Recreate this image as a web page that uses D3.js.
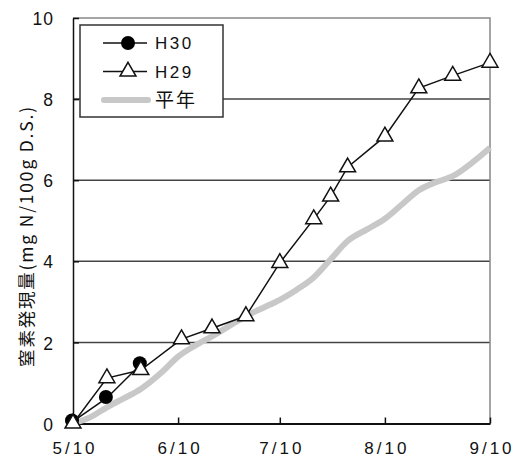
<!DOCTYPE html>
<html>
<head>
<meta charset="utf-8">
<script src="https://cdn.jsdelivr.net/npm/d3@7"></script>
<style>
  body { margin: 0; background: #fff; }
  svg { font-family: "Liberation Sans", Arial, sans-serif; }
</style>
</head>
<body>
<div id="chart"></div>
<script>
// dates are month/day in one season
let YEAR = 2018;
let parse = s => { let [m, d] = s.split("/").map(Number); return new Date(YEAR, m - 1, d); };

let xTicks = ["5/10", "6/10", "7/10", "8/10", "9/10"];
let yTicks = [0, 2, 4, 6, 8, 10];

// H30 (this year)
let h30Dates = ["5/10", "5/20", "5/30"];
let h30Values = [0.05, 0.63, 1.46];

// H29 (last year)
let h29Dates = ["5/10", "5/20", "5/30", "6/11", "6/20", "6/30", "7/10", "7/20", "7/25", "7/30", "8/10", "8/20", "8/30", "9/10"];
let h29Values = [0, 1.12, 1.32, 2.08, 2.35, 2.65, 3.96, 5.04, 5.6, 6.32, 7.08, 8.27, 8.58, 8.9];

// 平年 (average year)
let avgDates = ["5/10", "5/15", "5/20", "5/25", "5/30", "6/5", "6/10", "6/15", "6/20", "6/25", "6/30", "7/5", "7/10", "7/15", "7/20", "7/25", "7/30", "8/5", "8/10", "8/15", "8/20", "8/25", "8/30", "9/5", "9/10"];
let avgValues = [0, 0.15, 0.4, 0.62, 0.85, 1.25, 1.65, 1.92, 2.15, 2.4, 2.65, 2.85, 3.05, 3.3, 3.6, 4.05, 4.5, 4.8, 5.05, 5.4, 5.75, 5.95, 6.1, 6.45, 6.8];

let legendNames = ["H30", "H29", "平年"];

let width = 516, height = 459;
let margin = { left: 73, right: 25, top: 18, bottom: 36 };
let latin = "Liberation Sans, Arial, sans-serif";
let cjk = "Noto Sans CJK JP, sans-serif";

let svg = d3.select("#chart").append("svg")
    .attr("width", width)
    .attr("height", height);

let x = d3.scaleTime()
    .domain([parse("5/10"), parse("9/10")])
    .range([margin.left, width - margin.right - 1]);
let y = d3.scaleLinear()
    .domain([0, 10])
    .range([height - margin.bottom + 0.5, margin.top]);

let x0 = x.range()[0], x1 = x.range()[1];

// grid lines
svg.append("g")
    .selectAll("line")
    .data(yTicks.filter(v => v > 0 && v < 10))
    .join("line")
    .attr("x1", x0).attr("x2", x1)
    .attr("y1", d => y(d)).attr("y2", d => y(d))
    .attr("stroke", "#444")
    .attr("stroke-width", 1.5);

// top and right frame
svg.append("path")
    .attr("d", `M${x0},${y(10)}H${x1}V${y(0)}`)
    .attr("fill", "none")
    .attr("stroke", "#888")
    .attr("stroke-width", 1.5);

// axes
let xAxis = d3.axisBottom(x)
    .tickValues(xTicks.map(parse))
    .tickFormat(d3.timeFormat("%-m/%-d"))
    .tickSizeInner(-6)
    .tickSizeOuter(0)
    .tickPadding(18);
let gx = svg.append("g")
    .attr("transform", `translate(0,${y(0)})`)
    .call(xAxis);
gx.select(".domain").attr("stroke", "#111").attr("stroke-width", 2);
gx.selectAll(".tick line").attr("stroke", "#111").attr("stroke-width", 1.5);
gx.selectAll(".tick text")
    .attr("font-size", 17)
    .attr("letter-spacing", 3)
    .attr("dx", 1.5)
    .attr("fill", "#111")
    .attr("font-family", latin);

let yAxis = d3.axisLeft(y)
    .tickValues(yTicks)
    .tickSizeInner(-6)
    .tickSizeOuter(0)
    .tickPadding(20);
let gy = svg.append("g")
    .attr("transform", `translate(${x0},0)`)
    .call(yAxis);
gy.select(".domain").attr("stroke", "#111").attr("stroke-width", 1.5);
gy.selectAll(".tick line").attr("stroke", "#111").attr("stroke-width", 1.5);
gy.selectAll(".tick text")
    .attr("font-size", 17.5)
    .attr("letter-spacing", 1)
    .attr("dx", 1)
    .attr("dy", "0.38em")
    .attr("fill", "#111")
    .attr("font-family", latin);

// y title
svg.append("text")
    .attr("transform", `translate(33,236) rotate(-90)`)
    .attr("text-anchor", "middle")
    .attr("font-size", 17.5)
    .attr("letter-spacing", 1.8)
    .attr("fill", "#111")
    .attr("font-family", cjk)
    .text("窒素発現量(mg N/100g D.S.)");

let line = d3.line().x(d => x(d[0])).y(d => y(d[1]));
let zip = (ds, vs) => ds.map((d, i) => [parse(d), vs[i]]);

let avg = zip(avgDates, avgValues);
let h29 = zip(h29Dates, h29Values);
let h30 = zip(h30Dates, h30Values);

// average line
svg.append("path")
    .datum(avg)
    .attr("d", line.curve(d3.curveMonotoneX))
    .attr("fill", "none")
    .attr("stroke", "#c8c8c8")
    .attr("stroke-width", 6)
    .attr("stroke-linejoin", "round");
line.curve(d3.curveLinear);

let triangle = d3.symbol().type(d3.symbolTriangle).size(110);

// H30
svg.append("path")
    .datum(h30)
    .attr("d", line)
    .attr("fill", "none")
    .attr("stroke", "#111")
    .attr("stroke-width", 1.5);
svg.append("g")
    .selectAll("circle")
    .data(h30)
    .join("circle")
    .attr("cx", d => x(d[0]) - 1)
    .attr("cy", d => y(d[1]) - 1)
    .attr("r", 7)
    .attr("fill", "#000");

// H29
svg.append("path")
    .datum(h29)
    .attr("d", line)
    .attr("fill", "none")
    .attr("stroke", "#111")
    .attr("stroke-width", 1.5);
svg.append("g")
    .selectAll("path")
    .data(h29)
    .join("path")
    .attr("d", triangle)
    .attr("transform", d => `translate(${x(d[0])},${y(d[1])})`)
    .attr("fill", "#fff")
    .attr("stroke", "#111")
    .attr("stroke-width", 1.5);

// legend
let legend = svg.append("g").attr("transform", "translate(80,25)");
legend.append("rect")
    .attr("width", 143).attr("height", 92)
    .attr("fill", "#fff")
    .attr("stroke", "#333")
    .attr("stroke-width", 1.5);

legendNames.forEach((name, i) => {
    let ly = 18 + i * 28.5;
    let item = legend.append("g").attr("transform", `translate(0,${ly})`);
    if (i < 2) {
        item.append("line")
            .attr("x1", 23).attr("x2", 67)
            .attr("stroke", "#111").attr("stroke-width", 1.5);
        if (i === 0) {
            item.append("circle").attr("cx", 48).attr("r", 7).attr("fill", "#000");
        } else {
            item.append("path").attr("d", triangle)
                .attr("transform", "translate(48,0)")
                .attr("fill", "#fff").attr("stroke", "#111").attr("stroke-width", 1.5);
        }
    } else {
        item.append("line")
            .attr("x1", 24).attr("x2", 68)
            .attr("stroke", "#c8c8c8").attr("stroke-width", 6)
            .attr("stroke-linecap", "round");
    }
    item.append("text")
        .attr("x", 75)
        .attr("dy", "0.36em")
        .attr("font-size", i < 2 ? 17 : 19)
        .attr("letter-spacing", i < 2 ? 2.5 : 2)
        .attr("fill", "#111")
        .attr("font-family", i < 2 ? latin : cjk)
        .text(name);
});
</script>
</body>
</html>
